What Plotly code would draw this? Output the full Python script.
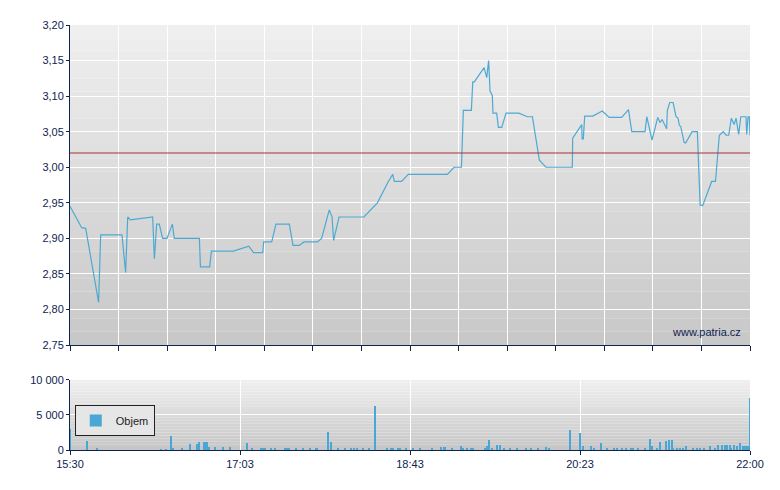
import plotly.graph_objects as go

# price series: minutes after 15:30, price
price_t = [0, 6.7, 9, 16.4, 17.6, 29.8, 31.9, 33.1, 34.6, 47.4, 48.4, 49.7, 51.2, 53.1, 55.6, 58.7, 59.8,
           74.2, 74.8, 80.1, 81.1, 93.7, 102.5, 105.3, 110.5, 111.1, 115.7, 118.1, 125.8, 127.9, 131.5,
           134.2, 141.9, 144.3, 148.7, 150.3, 151.2, 154.3, 168.6, 176.3, 182.6, 185.1, 186, 190.2, 194,
           212.2, 216.4, 220.3, 224.5, 225.6, 230.2, 231, 231.9, 237.5, 239, 240.1, 240.9, 242.2, 242.6,
           244.7, 245.7, 247.6, 250.1, 257.4, 262.3, 265.2, 269.2, 273, 288.1, 288.3, 293.5, 293.7, 294.4,
           295.2, 299.8, 305.3, 309.2, 316.4, 320.3, 322.2, 329.8, 330.8, 333.8, 337.1, 338.4, 339.6,
           342.2, 342.6, 344, 345.9, 347.6, 348.7, 349.5, 350.3, 352.2, 353.1, 356.8, 359.8, 361.4, 362.9,
           368, 370.2, 372.4, 374.7, 376.3, 377.8, 379.3, 380.9, 382, 383.5, 384.7, 387.7, 388.1, 388.9,
           389.6, 390]
price_v = [2.945, 2.915, 2.914, 2.81, 2.905, 2.905, 2.852, 2.93, 2.926, 2.93, 2.871, 2.92, 2.92, 2.90, 2.90,
           2.92, 2.90, 2.90, 2.86, 2.86, 2.882, 2.882, 2.889, 2.88, 2.88, 2.895, 2.895, 2.92, 2.92, 2.89,
           2.89, 2.895, 2.895, 2.90, 2.94, 2.93, 2.897, 2.93, 2.93, 2.95, 2.98, 2.99, 2.98, 2.98, 2.99,
           2.99, 2.99, 3.00, 3.00, 3.08, 3.08, 3.12, 3.12, 3.14, 3.126, 3.15, 3.107, 3.101, 3.076,
           3.076, 3.056, 3.056, 3.076, 3.076, 3.071, 3.071, 3.010, 3.00, 3.00, 3.041, 3.06, 3.04, 3.04,
           3.072, 3.072, 3.079, 3.07, 3.07, 3.081, 3.05, 3.05, 3.071, 3.038, 3.07, 3.063, 3.067,
           3.054, 3.08, 3.091, 3.091, 3.071, 3.069, 3.059, 3.057, 3.035, 3.034, 3.05, 3.05, 2.947, 2.946,
           2.98, 2.98, 3.045, 3.05, 3.045, 3.045, 3.069, 3.06, 3.069, 3.046, 3.071, 3.071, 3.046, 3.071,
           3.071, 3.045]
ref_price = 3.02

vol_t = [0, 9.7, 15.4, 52, 55, 57.8, 59, 64.3, 68.6, 72.9, 74, 77.2, 78, 78.9, 80, 83.5, 87.8, 92,
         101.5, 104.4, 109.8, 110.9, 112, 115.2, 117.8, 123.2, 124.4, 125.5, 129.8, 133.5, 137.8, 141, 142,
         147.8, 150, 153.5, 157.8, 161.2, 163, 164.7, 168.1, 171.3, 175, 181.8, 184.1, 185.3, 188.4, 189.6,
         192.7, 196.7, 201, 207.8, 212.9, 214.3, 215.4, 219, 224.5, 225.6, 227.6, 229.9, 231.4, 237.9,
         239.3, 240.2, 241.9, 245, 246.5, 248.7, 252.2, 256.5, 261.6, 264.5, 268.5, 273, 274.7, 287,
         292.8, 294.5, 298.8, 300.5, 304.8, 308, 312.2, 313.7, 316.5, 318.8, 321.7, 322.8, 325.7, 329.6,
         332.5, 333.6, 337, 338.2, 341.6, 343.4, 345.1, 345.7, 348, 350.2, 351.9, 353.6, 357.4, 359.4,
         361.4, 363.4, 367.4, 370, 371.7, 374, 375.7, 377.1, 378.8, 379.3, 381, 382.7, 384.5, 386.2,
         387, 388.2, 389, 390]
vol_v = [3040, 1300, 300, 150, 150, 2030, 300, 300, 870, 870, 1160, 1160, 1160, 1160, 430, 430, 430, 430,
         1000, 300, 300, 300, 300, 300, 300, 300, 300, 300, 300, 300, 300, 300, 300,
         2600, 1200, 300, 300, 300, 300, 300, 300, 300, 6280, 300, 300, 300, 300, 300,
         300, 300, 300, 300, 430, 430, 430, 300, 530, 300, 300, 300, 300, 300,
         530, 1450, 300, 720, 720, 300, 300, 300, 300, 300, 300, 430, 300, 2900,
         2460, 530, 530, 300, 1000, 300, 300, 300, 300, 300, 300, 300, 300, 300,
         1600, 530, 300, 1160, 1300, 1450, 1450, 300, 300, 300, 300, 530, 300, 300,
         300, 300, 530, 300, 720, 720, 720, 720, 720, 300, 720, 530, 1000, 530,
         530, 530, 530, 7490]

x_ticks = [0, 97.5, 195, 292.5, 390]
x_labels = ["15:30", "17:03", "18:43", "20:23", "22:00"]

navy = "#0f2350"
fig = go.Figure()
fig.add_trace(go.Scatter(x=price_t, y=price_v, mode="lines", line=dict(color="#4ea9d2", width=1.2),
                         xaxis="x", yaxis="y", showlegend=False, hoverinfo="skip"))
fig.add_trace(go.Scatter(x=[0, 390], y=[ref_price, ref_price], mode="lines",
                         line=dict(color="#a83030", width=1), xaxis="x", yaxis="y", showlegend=False))
fig.add_trace(go.Bar(x=vol_t, y=vol_v, width=0.7, marker=dict(color="#4aa6d4", line=dict(width=0)),
                     name="Objem", xaxis="x2", yaxis="y2", showlegend=True))

shapes = []
n = 24
def band(c0, c1, yref, xref):
    for i in range(n):
        f = i / n
        c = [int(c0[k] + (c1[k] - c0[k]) * (f + 0.5 / n)) for k in range(3)]
        shapes.append(dict(type="rect", xref=xref, yref=yref, x0=0, x1=1,
                           y0=1 - (i + 1) / n, y1=1 - i / n, fillcolor="rgb(%d,%d,%d)" % tuple(c),
                           line=dict(width=0), layer="below"))
band((240, 240, 240), (200, 200, 200), "y domain", "x domain")
band((240, 240, 240), (198, 198, 198), "y2 domain", "x2 domain")

fig.update_layout(
    width=780, height=490, margin=dict(l=62, r=38, t=17, b=48),
    paper_bgcolor="white", plot_bgcolor="rgba(0,0,0,0)",
    separators=", ", shapes=shapes, bargap=0,
    font=dict(family="Liberation Sans, Arial", size=11, color=navy),
    xaxis=dict(domain=[0, 1], range=[0, 390], anchor="y", tickvals=[390 / 14 * i for i in range(15)],
               showticklabels=False, ticks="outside", ticklen=5, tickcolor=navy, showgrid=True,
               gridcolor="white", gridwidth=1, showline=True, linecolor=navy, zeroline=False),
    yaxis=dict(domain=[0.247, 1], range=[2.75, 3.20], dtick=0.05, tickformat=".2f", showgrid=True,
               gridcolor="white", showline=True, linecolor=navy, ticks="outside", ticklen=3,
               tickcolor=navy, zeroline=False),
    xaxis2=dict(domain=[0, 1], range=[0, 390], anchor="y2", tickvals=x_ticks, ticktext=x_labels,
                ticks="outside", ticklen=4, tickcolor=navy, showgrid=True, gridcolor="white",
                showline=True, linecolor=navy, zeroline=False),
    yaxis2=dict(domain=[0, 0.165], range=[0, 10000], tickvals=[0, 5000, 10000], tickformat=",d",
                showgrid=True, gridcolor="white", showline=True, linecolor=navy, ticks="outside",
                ticklen=3, tickcolor=navy, zeroline=False),
    legend=dict(x=0.007, y=0.106, xanchor="left", yanchor="top", bgcolor="#e6e6e6",
                bordercolor="#222", borderwidth=1, itemwidth=30, font=dict(size=11, color="#222"),
                tracegroupgap=0),
    annotations=[dict(text="www.patria.cz", xref="x", yref="y", x=386, y=2.757, xanchor="right",
                      yanchor="bottom", showarrow=False, font=dict(size=11, color=navy))],
)
fig.write_html("out.html")
